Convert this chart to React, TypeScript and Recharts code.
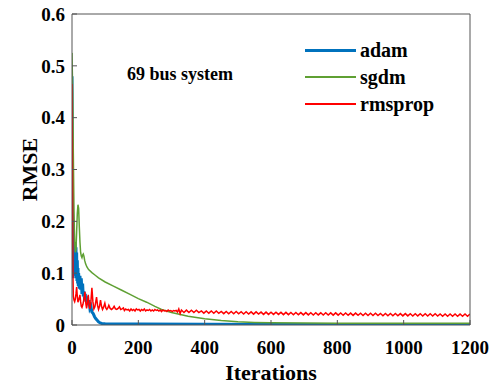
import React from 'react';
import { LineChart, Line, XAxis, YAxis, Legend } from 'recharts';

const X_TICKS = [0, 200, 400, 600, 800, 1000, 1200];
const Y_TICKS = [0, 0.1, 0.2, 0.3, 0.4, 0.5, 0.6];
const LEGEND_ORDER = ['adam', 'sgdm', 'rmsprop'];

const ADAM_IT = [0, 1, 2, 3, 4, 5, 6, 7, 8, 9, 10, 11, 12, 13, 14, 15, 16, 17, 18, 19, 20, 22, 24, 26, 28, 30, 32, 34, 36, 38, 40, 42, 45, 48, 51, 54, 57, 60, 64, 68, 72, 76, 80, 85, 90, 100, 130, 200, 400, 700, 1000, 1200];
const ADAM_RMSE = [0.48, 0.34, 0.15, 0.09, 0.13, 0.095, 0.15, 0.1, 0.16, 0.1, 0.158, 0.095, 0.15, 0.09, 0.14, 0.085, 0.125, 0.08, 0.11, 0.075, 0.1, 0.07, 0.095, 0.068, 0.09, 0.06, 0.08, 0.055, 0.065, 0.048, 0.06, 0.045, 0.055, 0.04, 0.048, 0.032, 0.036, 0.025, 0.022, 0.016, 0.012, 0.009, 0.006, 0.004, 0.003, 0.0025, 0.002, 0.0018, 0.0015, 0.0012, 0.001, 0.001];

const SGDM_IT = [0, 2, 4, 6, 8, 10, 12, 14, 16, 18, 20, 22, 24, 26, 28, 30, 32, 34, 36, 38, 41, 45, 50, 60, 70, 80, 100, 125, 150, 175, 200, 225, 250, 270, 300, 350, 400, 450, 500, 550, 600, 700, 800, 1000, 1200];
const SGDM_RMSE = [0.525, 0.45, 0.33, 0.22, 0.16, 0.14, 0.145, 0.18, 0.215, 0.232, 0.225, 0.19, 0.16, 0.14, 0.133, 0.13, 0.135, 0.137, 0.133, 0.125, 0.118, 0.112, 0.107, 0.101, 0.096, 0.091, 0.083, 0.075, 0.067, 0.059, 0.051, 0.044, 0.036, 0.03, 0.024, 0.017, 0.012, 0.0088, 0.0065, 0.005, 0.0042, 0.0037, 0.0035, 0.0034, 0.0033];

// rmsprop: irregular start, then a steady ripple sampled every 7.5 iterations
const RMSPROP_IT = [0, 1, 2, 3, 4, 6, 8, 10, 12, 14, 16, 18, 20, 22, 24, 26, 28, 30, 33, 36, 39, 42, 44, 46, 49, 52, 54, 57, 60, 63, 66, 69, 72, 74, 77, 80, 83, 86, 89, 92, 95, 99, 102, 105, 108, 111, 115, 119, 123, 127, 131, 135, 139, 143, 147, 151, 155, 158, 162, 166, 170, 174, 178, 182, 186, 190, 194, 198, 202, 206, 210, 214, 218, 222, 226, 230, 234, 238, 242, 246, 250, 254, 258, 262, 266, 270, 274, 278, 282, 286, 290, 294, 298, 302, 306, 310, 314, 318, 322, 326];
const RMSPROP_RMSE = [0.465, 0.35, 0.2, 0.09, 0.055, 0.048, 0.045, 0.05, 0.06, 0.073, 0.055, 0.044, 0.048, 0.052, 0.058, 0.045, 0.036, 0.034, 0.04, 0.05, 0.064, 0.04, 0.032, 0.04, 0.058, 0.036, 0.031, 0.045, 0.072, 0.045, 0.031, 0.035, 0.046, 0.054, 0.038, 0.03, 0.036, 0.048, 0.036, 0.03, 0.034, 0.042, 0.033, 0.03, 0.033, 0.038, 0.032, 0.03, 0.032, 0.036, 0.031, 0.03, 0.032, 0.035, 0.03, 0.031, 0.033, 0.028, 0.031, 0.029, 0.03, 0.027, 0.031, 0.028, 0.03, 0.027, 0.031, 0.029, 0.03, 0.027, 0.03, 0.028, 0.031, 0.027, 0.029, 0.028, 0.03, 0.027, 0.029, 0.027, 0.03, 0.028, 0.029, 0.027, 0.029, 0.026, 0.029, 0.027, 0.028, 0.026, 0.029, 0.027, 0.028, 0.026, 0.028, 0.027, 0.028, 0.025, 0.031, 0.022];
const RMSPROP_TAIL_START = 330;
const RMSPROP_TAIL_STEP = 7.5;
const RMSPROP_TAIL = [
  0.0288, 0.0242, 0.0287, 0.0241, 0.0286, 0.024, 0.0285, 0.0239,
  0.0273, 0.0229, 0.0272, 0.0228, 0.0271, 0.0227, 0.027, 0.0226,
  0.0263, 0.0219, 0.0262, 0.0218, 0.0262, 0.0218, 0.0261, 0.0217,
  0.0255, 0.0211, 0.0255, 0.0211, 0.0254, 0.021, 0.0254, 0.021,
  0.0249, 0.0205, 0.0249, 0.0205, 0.0248, 0.0204, 0.0248, 0.0204,
  0.0244, 0.02, 0.0244, 0.02, 0.0243, 0.0199, 0.0243, 0.0199,
  0.0239, 0.0195, 0.0239, 0.0195, 0.0238, 0.0194, 0.0238, 0.0194,
  0.0235, 0.0191, 0.0235, 0.0191, 0.0234, 0.019, 0.0234, 0.019,
  0.0231, 0.0187, 0.0231, 0.0187, 0.023, 0.0186, 0.023, 0.0186,
  0.0227, 0.0183, 0.0227, 0.0183, 0.0226, 0.0182, 0.0226, 0.0182,
  0.0223, 0.0179, 0.0223, 0.0179, 0.0222, 0.0178, 0.0222, 0.0178,
  0.022, 0.0176, 0.022, 0.0176, 0.0219, 0.0175, 0.0219, 0.0175,
  0.0217, 0.0173, 0.0217, 0.0173, 0.0216, 0.0172, 0.0216, 0.0172,
  0.0214, 0.017, 0.0214, 0.017, 0.0213, 0.0169, 0.0213, 0.0169,
  0.0211, 0.0167, 0.0211, 0.0167, 0.0212,
];

const SERIF = "'Liberation Serif', 'Times New Roman', serif";
const AXIS_COLOR = '#555';

const toPoints = (its: number[], vals: number[]) => its.map((it, i) => ({ it, rmse: vals[i] }));

const adamData = toPoints(ADAM_IT, ADAM_RMSE);
const sgdmData = toPoints(SGDM_IT, SGDM_RMSE);
const rmspropData = [
  ...toPoints(RMSPROP_IT, RMSPROP_RMSE),
  ...RMSPROP_TAIL.map((rmse, i) => ({ it: RMSPROP_TAIL_START + i * RMSPROP_TAIL_STEP, rmse })),
];

const LEGEND_WIDTHS: Record<string, number> = { adam: 3.5, sgdm: 2, rmsprop: 2 };

const renderLegend = (props: any) => {
  const items = (props.payload || [])
    .filter((e: any) => LEGEND_ORDER.includes(e.value))
    .sort((a: any, b: any) => LEGEND_ORDER.indexOf(a.value) - LEGEND_ORDER.indexOf(b.value));
  return (
    <div>
      {items.map((entry: any) => (
        <div key={entry.value} style={{ display: 'flex', alignItems: 'center', height: 26.7 }}>
          <div style={{ width: 51, height: LEGEND_WIDTHS[entry.value], background: entry.color }} />
          <span style={{ marginLeft: 4, fontFamily: SERIF, fontWeight: 'bold', fontSize: 20, color: '#000', lineHeight: '20px' }}>
            {entry.value}
          </span>
        </div>
      ))}
    </div>
  );
};

// bold tick labels; dy depends on which side the axis sits
const BottomTick = ({ x, y, payload }: any) => (
  <text x={x} y={y} dy="0.71em" textAnchor="middle" fill="#000" fontSize={19} fontFamily={SERIF} fontWeight="bold">
    {payload.value}
  </text>
);
const LeftTick = ({ x, y, payload }: any) => (
  <text x={x} y={y} dy="0.355em" textAnchor="end" fill="#000" fontSize={19} fontFamily={SERIF} fontWeight="bold">
    {payload.value}
  </text>
);

const labelStyle = { fontFamily: SERIF, fontWeight: 'bold', fontSize: 22, fill: '#000' };

export default function App() {
  return (
    <div style={{ position: 'absolute', left: 0, top: 0, width: 491, height: 385, background: '#fff' }}>
      <LineChart width={491} height={385} margin={{ top: 13, right: 20, left: 0, bottom: 0 }}>
        <XAxis
          dataKey="it"
          type="number"
          domain={[0, 1200]}
          ticks={X_TICKS}
          allowDataOverflow
          height={60}
          tickSize={-5}
          tickMargin={21}
          stroke={AXIS_COLOR}
          tick={<BottomTick />}
          label={{ value: 'Iterations', position: 'insideBottom', offset: 5, style: labelStyle }}
        />
        <XAxis
          xAxisId="top"
          orientation="top"
          type="number"
          dataKey="it"
          domain={[0, 1200]}
          ticks={X_TICKS}
          allowDataOverflow
          height={1}
          tickSize={-5}
          tick={false}
          stroke={AXIS_COLOR}
        />
        <YAxis
          type="number"
          domain={[0, 0.6]}
          ticks={Y_TICKS}
          allowDataOverflow
          width={72}
          tickSize={-5}
          tickMargin={12}
          stroke={AXIS_COLOR}
          tick={<LeftTick />}
          label={{ value: 'RMSE', angle: -90, position: 'insideLeft', offset: 29, style: { ...labelStyle, textAnchor: 'middle' } }}
        />
        <YAxis
          yAxisId="right"
          orientation="right"
          type="number"
          domain={[0, 0.6]}
          ticks={Y_TICKS}
          allowDataOverflow
          width={1}
          tickSize={-5}
          tick={false}
          stroke={AXIS_COLOR}
        />
        <Legend
          layout="vertical"
          align="center"
          verticalAlign="middle"
          content={renderLegend}
          wrapperStyle={{ left: 305, top: 37, width: 'auto' }}
        />
        {/* invisible copy so the top / right frame axes have a series bound to them */}
        <Line data={sgdmData} dataKey="rmse" name="frame" xAxisId="top" yAxisId="right" stroke="none" legendType="none" dot={false} activeDot={false} isAnimationActive={false} />
        <Line data={adamData} dataKey="rmse" name="adam" type="linear" stroke="#0072BD" strokeWidth={3} dot={false} isAnimationActive={false} />
        <Line data={sgdmData} dataKey="rmse" name="sgdm" type="linear" stroke="#5FA033" strokeWidth={1.5} dot={false} isAnimationActive={false} />
        <Line data={rmspropData} dataKey="rmse" name="rmsprop" type="linear" stroke="#FF0000" strokeWidth={1.5} dot={false} isAnimationActive={false} />
      </LineChart>
      <div
        style={{
          position: 'absolute',
          left: 127,
          top: 65,
          fontFamily: SERIF,
          fontWeight: 'bold',
          fontSize: 18,
          lineHeight: '18px',
          color: '#000',
          whiteSpace: 'nowrap',
        }}
      >
        69 bus system
      </div>
    </div>
  );
}
